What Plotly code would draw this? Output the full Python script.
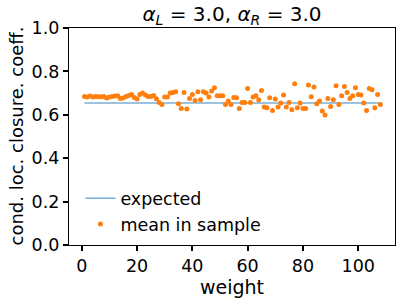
import plotly.graph_objects as go

# data
weights = list(range(1, 109))
# pixel-offset readings converted to values
zy = [50, 52, 49, 52, 50, 51, 51, 50, 55, 52, 50, 49, 48, 56, 55, 50, 47, 44, 53, 58, 44, 40, 46, 50, 50, 47, 57,
      68, 74, 52, 52, 40, 38, 36, 72, 86, 38, 88, 56, 44, 62, 36, 60, 36, 40, 52, 34, 24, 48, 48, 48, 74, 64, 74, 53,
      54, 86, 68, 68, 26, 68, 52, 48, 60, 32, 82, 84, 54, 92, 58, 82, 70, 46, 82, 68, 90, 12, 84, 70, 86, 86, 16, 51,
      22, 72, 64, 94, 106, 56, 80, 60, 18, 74, 48, 20, 38, 56, 48, 24, 44, 46, 70, 92, 26, 30, 84, 44, 74]
mean_in_sample = [round(0.654 + (70 - z) / 651.0, 4) for z in zy]
expected_value = 0.654
expected_x = [1, 108]
expected_y = [expected_value, expected_value]

font = "DejaVu Sans"

fig = go.Figure()
fig.add_trace(go.Scatter(x=expected_x, y=expected_y, mode="lines", name="expected",
                         line=dict(color="rgba(31,119,180,0.6)", width=1.5)))
fig.add_trace(go.Scatter(x=weights, y=mean_in_sample, mode="markers", name="mean in sample",
                         marker=dict(color="#ff7f0e", size=5, line=dict(width=0))))

fig.update_layout(
    width=407, height=305,
    margin=dict(l=69, r=12, t=28, b=60, autoexpand=False),
    paper_bgcolor="white", plot_bgcolor="white",
    font=dict(family=font, color="black", size=17.5),
    title=dict(text="<i>α</i><sub><i>L</i></sub> = 3.0, <i>α</i><sub><i>R</i></sub> = 3.0",
               x=0.5, xref="paper", xanchor="center", y=0.955, yanchor="middle",
               font=dict(size=20, family=font)),
    showlegend=True,
    legend=dict(x=0.035, y=0.012, xanchor="left", yanchor="bottom", bgcolor="rgba(0,0,0,0)",
                font=dict(size=17.5, family=font), tracegroupgap=0, itemwidth=30),
    xaxis=dict(range=[-4.6, 113.3], tickvals=[0, 20, 40, 60, 80, 100],
               ticks="outside", ticklen=5, tickwidth=2, tickcolor="black",
               showline=True, linecolor="black", linewidth=1.2, mirror=True,
               showgrid=False, zeroline=False, automargin=False,
               title=dict(text="weight", font=dict(size=19), standoff=1)),
    yaxis=dict(range=[0, 1], tickvals=[0, 0.2, 0.4, 0.6, 0.8, 1.0], tickformat=".1f",
               ticks="outside", ticklen=5, tickwidth=2, tickcolor="black",
               showline=True, linecolor="black", linewidth=1.2, mirror=True,
               showgrid=False, zeroline=False, automargin=False),
    annotations=[dict(text="cond. loc. closure. coeff.", xref="paper", yref="paper",
                      x=(16 - 69) / 326, y=0.5, xanchor="center", yanchor="middle",
                      textangle=-90, showarrow=False, font=dict(size=18, family=font))],
)

fig.write_html("out.html", config={"displayModeBar": False},
               post_script="document.body.style.margin='0';document.body.style.overflow='hidden';")
